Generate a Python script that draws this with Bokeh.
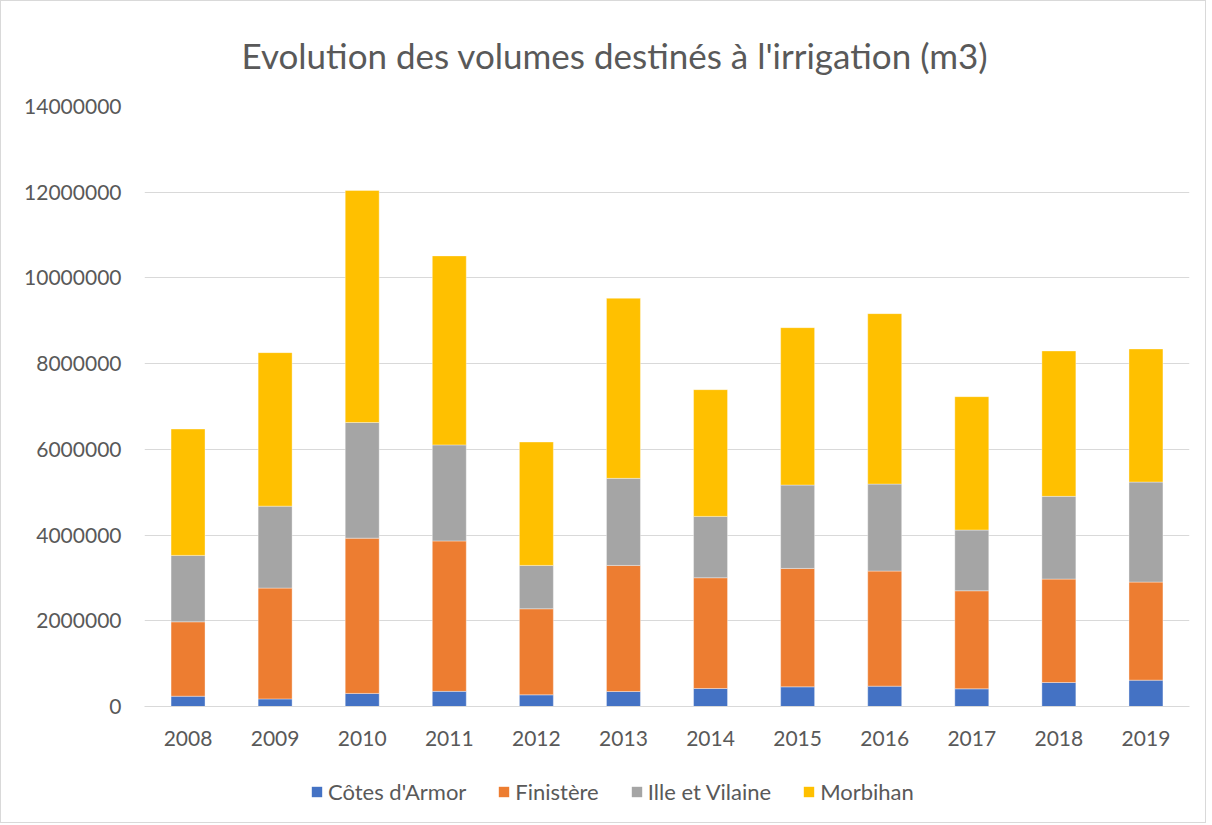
from bokeh.plotting import figure
from bokeh.layouts import column
from bokeh.models import Range1d, FactorRange, Legend, LegendItem, SingleIntervalTicker, NumeralTickFormatter
from bokeh.embed import file_html
from bokeh.resources import INLINE

years = ["2008", "2009", "2010", "2011", "2012", "2013", "2014", "2015", "2016", "2017", "2018", "2019"]
cotes_armor = [240000, 177000, 305000, 353000, 272000, 350000, 420000, 459000, 475000, 412000, 560000, 615000]
finistere = [1736000, 2586000, 3623000, 3510000, 2008000, 2942000, 2584000, 2763000, 2685000, 2288000, 2413000, 2288000]
ille_vilaine = [1550000, 1912000, 2699000, 2241000, 1012000, 2031000, 1432000, 1945000, 2030000, 1417000, 1930000, 2334000]
morbihan = [2948000, 3582000, 5413000, 4410000, 2879000, 4202000, 2957000, 3673000, 3977000, 3113000, 3393000, 3106000]

series = ["Côtes d'Armor", "Finistère", "Ille et Vilaine", "Morbihan"]
keys = ["ca", "fi", "iv", "mo"]
colors = ["#4472C4", "#ED7D31", "#A5A5A5", "#FFC000"]

FONT = "Lato"
TXT = "#595959"

data = dict(x=years, ca=cotes_armor, fi=finistere, iv=ille_vilaine, mo=morbihan)

p = figure(width=1204, height=757, x_range=FactorRange(*years), y_range=Range1d(0, 14000000),
           output_backend="svg", toolbar_location=None,
           min_border_left=143, min_border_right=16, min_border_top=104, min_border_bottom=52)

p.title.text = "Evolution des volumes destinés à l'irrigation (m3)"
p.title.align = "left"
p.title.text_font = FONT
p.title.text_font_size = "35px"
p.title.text_font_style = "normal"
p.title.text_color = TXT
p.title.offset = 97
p.title.standoff = 61

p.vbar_stack(keys, x="x", width=0.39, color=colors, source=data,
             line_color="white", line_width=0.6, line_alpha=0.6)

p.outline_line_color = None
p.xgrid.grid_line_color = None
p.ygrid.grid_line_color = "#d9d9d9"
p.ygrid.grid_line_width = 1.2
p.yaxis.ticker = SingleIntervalTicker(interval=2000000)
p.yaxis.formatter = NumeralTickFormatter(format="0")
p.yaxis.axis_line_color = None
p.yaxis.major_tick_line_color = None
p.yaxis.minor_tick_line_color = None
p.yaxis.major_label_standoff = 17
p.xaxis.axis_line_color = "#d9d9d9"
p.xaxis.axis_line_width = 1.2
p.xaxis.major_tick_line_color = None
p.xaxis.minor_tick_line_color = None
p.xaxis.major_label_standoff = 18
for ax in (p.xaxis, p.yaxis):
    ax.major_label_text_font = FONT
    ax.major_label_text_font_size = "21px"
    ax.major_label_text_color = TXT

# legend strip below the chart (its swatch renderers are hidden)
pl = figure(width=1204, height=64, x_range=FactorRange(*years), y_range=Range1d(0, 1),
            output_backend="svg", toolbar_location=None, min_border=0)
lr = pl.vbar_stack(keys, x="x", width=0.39, color=colors, source=data, line_color=None)
for r in lr:
    r.visible = False
pl.axis.visible = False
pl.grid.visible = False
pl.outline_line_color = None

legend = Legend(items=[LegendItem(label=s, renderers=[r]) for s, r in zip(series, lr)],
                orientation="horizontal", location=(166, 17))
legend.label_text_font = FONT
legend.label_text_font_size = "22px"
legend.label_text_color = TXT
legend.glyph_width = 13
legend.glyph_height = 13
legend.label_standoff = 5
legend.spacing = 31
legend.border_line_color = None
legend.background_fill_alpha = 0
legend.inactive_fill_alpha = 0
legend.margin = 0
legend.padding = 8
pl.add_layout(legend, "center")

layout = column(p, pl, spacing=0)
layout.styles = {"border": "1px solid #d9d9d9"}

open("out.html", "w").write(file_html(layout, INLINE))
